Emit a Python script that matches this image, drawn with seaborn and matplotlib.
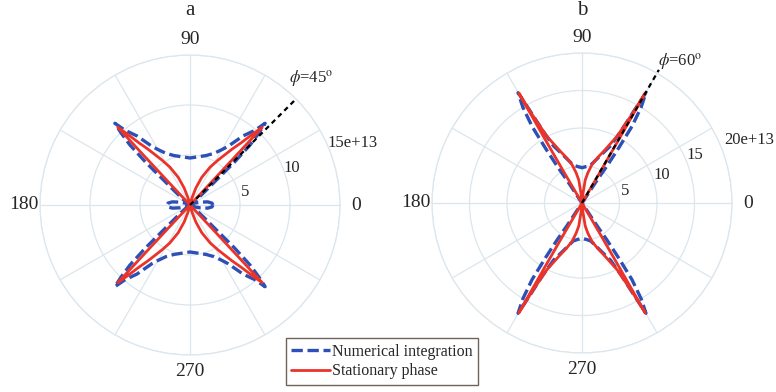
import numpy as np
import matplotlib
matplotlib.use("Agg")
import matplotlib.pyplot as plt
import seaborn as sns

# ---- data (intensity in units of 1e13, angles in degrees) ----
# first-quadrant traces; the patterns are mirror-symmetric about both axes
a_num_theta = [0, 5, 10, 15, 20, 30, 38, 42, 43.5, 44, 45, 46.3, 47.4,
               49, 52.5, 57, 60, 65, 72, 80, 90]
a_num_r = [2.3, 2.2, 1.8, 1.1, 0.6, 0.3, 0.6, 2.0, 4.0, 6.2, 8.5, 10.0, 11.1,
           9.9, 8.7, 7.0, 6.4, 5.7, 5.2, 4.9, 4.7]

a_sp_theta = [0, 46.5, 46.8, 47.0, 47.1, 48.5, 50.5, 53, 55, 58, 62, 67, 71,
              74, 77, 80, 90]
a_sp_r = [0, 0, 3.0, 7.0, 10.6, 9.5, 8.1, 7.0, 6.2, 5.3, 4.3, 3.0, 1.8,
          0.8, 0.3, 0.1, 0]

b_num_theta = [0, 55, 56.5, 56.5, 56.0, 56.3, 56.9, 58.3, 59.9,
               60.6, 61.5, 63.5, 68, 77, 83, 90]
b_num_r = [0, 0.3, 1.5, 3.7, 5.9, 8.8, 12.2, 15.0, 17.0,
           14.0, 11.0, 8.5, 7.0, 5.2, 4.9, 4.7]

b_sp_theta = [0, 59.5, 59.7, 59.9, 60.1, 60.6, 61.2, 62.3, 64.5, 67.2, 71,
              75.4, 79, 82, 84, 87, 90]
b_sp_r = [0, 0, 5.0, 10.0, 16.9, 13.5, 12.0, 10.0, 8.7, 7.5, 6.4,
          5.3, 4.1, 3.1, 1.3, 0.4, 0]

a_phi, b_phi = 45, 60
a_rticks, b_rticks = [5, 10, 15], [5, 10, 15, 20]
a_rmax, b_rmax = 15, 20
angle_ticks = [0, 90, 180, 270]
panel_titles = ["a", "b"]
legend_labels = ["Numerical integration", "Stationary phase"]

sns.set_theme(style="white")
plt.rcParams["font.family"] = ["Liberation Serif", "DejaVu Serif"]
plt.rcParams["mathtext.fontset"] = "stix"

BLUE = "#2d50b6"
RED = "#ea3329"
GRID = "#dce6ed"


def full_pattern(theta_q1, r_q1):
    """Unfold a first-quadrant trace into the closed four-lobed pattern."""
    t = np.asarray(theta_q1, float)
    r = np.asarray(r_q1, float)
    th = np.concatenate([t, 180 - t[::-1], 180 + t, 360 - t[::-1], t[:1]])
    rr = np.concatenate([r, r[::-1], r, r[::-1], r[:1]])
    return np.deg2rad(th), rr


fig = plt.figure(figsize=(7.76, 3.92), dpi=100)
W, H = 776, 392
R_PX = 150


def make_axes(cx, cy):
    return fig.add_axes([(cx - R_PX) / W, (H - cy - R_PX) / H,
                         2 * R_PX / W, 2 * R_PX / H], projection="polar")


panels = [
    dict(ax=make_axes(190, 205), num=(a_num_theta, a_num_r),
         sp=(a_sp_theta, a_sp_r), phi=a_phi, rticks=a_rticks, rmax=a_rmax,
         rlab=[(13.3, 5.65), (20.0, 10.8), (20.8, 17.4)],
         phi_lab=(46.2, 17.5), phi_end=14.9, title_x=190),
    dict(ax=make_axes(582, 203), num=(b_num_theta, b_num_r),
         sp=(b_sp_theta, b_sp_r), phi=b_phi, rticks=b_rticks, rmax=b_rmax,
         rlab=[(15.0, 6.0), (19.5, 11.3), (23.1, 16.4), (20.8, 23.8)],
         phi_lab=(55.2, 22.9), phi_end=20.5, title_x=582),
]

for i, p in enumerate(panels):
    ax = p["ax"]
    ax.set_facecolor("white")
    ax.set_ylim(0, p["rmax"])
    ax.set_xticks(np.deg2rad(np.arange(0, 360, 30)))
    ax.set_xticklabels([])
    ax.set_yticks(p["rticks"])
    ax.set_yticklabels([])
    ax.grid(True, color=GRID, linewidth=0.9)
    ax.spines["polar"].set_color(GRID)
    ax.spines["polar"].set_linewidth(0.9)

    th, rr = full_pattern(*p["num"])
    sns.lineplot(x=th, y=rr, sort=False, estimator=None, ax=ax, color=BLUE,
                 linewidth=2.4, label=legend_labels[0] if i == 0 else None)
    ax.lines[-1].set_dashes([3.4, 1.4])
    th, rr = full_pattern(*p["sp"])
    sns.lineplot(x=th, y=rr, sort=False, estimator=None, ax=ax, color=RED,
                 linewidth=2.0, label=legend_labels[1] if i == 0 else None)

    phi = np.deg2rad(p["phi"])
    ax.plot([phi, phi], [0, p["phi_end"]], color="black", linewidth=1.6,
            dashes=[2.2, 1.8], clip_on=False, zorder=5)
    ax.text(np.deg2rad(p["phi_lab"][0]), p["phi_lab"][1],
            r"$\phi$=%d$^{\rm o}$" % p["phi"], fontsize=12,
            ha="center", va="center", clip_on=False)

    # angular labels
    scale = p["rmax"] / R_PX
    for ang in angle_ticks:
        ax.text(np.deg2rad(ang), 166 * scale, str(ang), fontsize=14,
                ha="center", va="center", clip_on=False)
    # radial labels, exponent on the outermost one
    for k, (ang, rpos) in enumerate(p["rlab"]):
        val = p["rticks"][k]
        txt = f"{val}e+13" if k == len(p["rticks"]) - 1 else str(val)
        ax.text(np.deg2rad(ang), rpos, txt, fontsize=12,
                ha="center", va="center", clip_on=False)
    ax.set_xlabel("")
    ax.set_ylabel("")
    if ax.get_legend() is not None:
        ax.get_legend().remove()

    fig.text(p["title_x"] / W, 1 - 15 / H, panel_titles[i], fontsize=15,
             ha="center", va="baseline")

handles, labels = panels[0]["ax"].get_legend_handles_labels()
leg = fig.legend(handles, labels, loc="center", bbox_to_anchor=(382 / W, 1 - 361.5 / H),
                 fontsize=11.5, frameon=True, fancybox=False, handlelength=2.4,
                 handletextpad=0.15, borderpad=0.35, labelspacing=0.25,
                 borderaxespad=0)
leg.get_frame().set_edgecolor("#4a3c34")
leg.get_frame().set_linewidth(1.0)

fig.savefig("out.png", dpi=100, facecolor="white")
